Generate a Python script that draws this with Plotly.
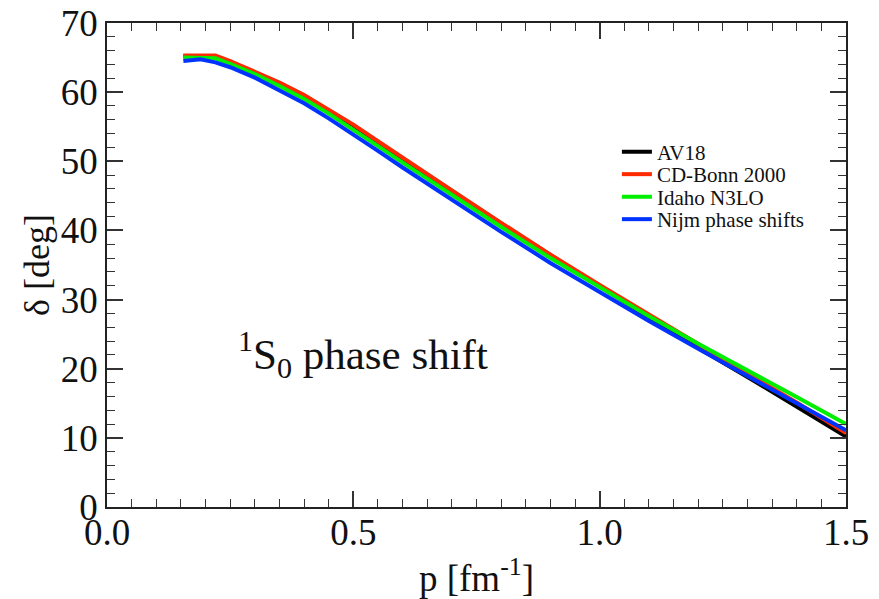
import plotly.graph_objects as go

p = [0.155, 0.19, 0.22, 0.25, 0.30, 0.35, 0.40, 0.45, 0.50, 0.55, 0.60, 0.70, 0.80, 0.90, 1.00, 1.10, 1.20, 1.30, 1.40, 1.50]

av18 = [65.2, 65.2, 65.2, 64.4, 62.9, 61.3, 59.5, 57.4, 55.2, 52.8, 50.4, 45.7, 41.0, 36.4, 31.9, 27.4, 23.0, 18.8, 14.5, 10.2]
cdbonn = [65.3, 65.3, 65.3, 64.5, 63.0, 61.4, 59.6, 57.5, 55.3, 52.9, 50.5, 45.8, 41.1, 36.5, 32.1, 27.8, 23.5, 19.3, 15.1, 10.7]
idaho = [65.0, 65.0, 64.9, 64.1, 62.6, 60.9, 59.0, 56.9, 54.6, 52.2, 49.8, 45.1, 40.5, 36.0, 31.8, 27.6, 23.6, 19.8, 15.9, 12.0]
nijm = [64.5, 64.75, 64.3, 63.6, 62.1, 60.3, 58.4, 56.2, 53.9, 51.5, 49.1, 44.4, 39.8, 35.3, 31.1, 26.9, 22.9, 18.9, 15.0, 11.1]

names = ["AV18", "CD-Bonn 2000", "Idaho N3LO", "Nijm phase shifts"]
colors = ["#000000", "#ff2a00", "#00ee00", "#0033ff"]
series = [av18, cdbonn, idaho, nijm]

FONT = "Liberation Serif"

fig = go.Figure()
legend_ids = ["legend", "legend2", "legend3", "legend4"]
for nm, col, ys, lg in zip(names, colors, series, legend_ids):
    fig.add_trace(go.Scatter(x=p, y=ys, mode="lines", name=nm, legend=lg,
                             line=dict(color=col, width=4)))

axis_common = dict(
    showline=True, linecolor="#222", linewidth=1.5, mirror="allticks",
    ticks="inside", ticklen=16, tickwidth=1.5, tickcolor="#333",
    showgrid=False, zeroline=False, automargin=False,
    tickfont=dict(family=FONT, size=37, color="#111"),
)

fig.update_xaxes(range=[0, 1.5], dtick=0.5, tick0=0, tickformat=".1f",
                 ticklabelstandoff=-8,
                 minor=dict(dtick=0.05, ticklen=8, tickwidth=1.3, tickcolor="#333", ticks="inside"),
                 title=dict(text="p [fm<sup>-1</sup>]", font=dict(family=FONT, size=37, color="#111"), standoff=13),
                 **axis_common)
fig.update_yaxes(range=[0, 70], dtick=10, tick0=0,
                 minor=dict(dtick=2, ticklen=8, tickwidth=1.3, tickcolor="#333", ticks="inside"),
                 title=dict(text="δ [deg]", font=dict(family=FONT, size=36, color="#111"), standoff=0),
                 **axis_common)

fig.add_annotation(x=0.262, y=22.0, xref="x", yref="y", xanchor="left", yanchor="middle",
                   text="<sup>1</sup>S<sub>0</sub> phase shift", showarrow=False,
                   font=dict(family=FONT, size=43, color="#111"))

row_px = [152, 174.5, 197, 219.5]
legend_layout = {}
for lg, ypx in zip(legend_ids, row_px):
    legend_layout[lg] = dict(x=0.69, y=(507 - ypx) / 484, xanchor="left", yanchor="middle",
                             bgcolor="rgba(0,0,0,0)", borderwidth=0, itemwidth=30,
                             font=dict(family=FONT, size=21, color="#111"))

fig.update_layout(
    width=879, height=599,
    margin=dict(l=107, r=33, t=23, b=92),
    plot_bgcolor="white", paper_bgcolor="white",
    showlegend=True,
    **legend_layout,
)

fig.write_html("out.html")
